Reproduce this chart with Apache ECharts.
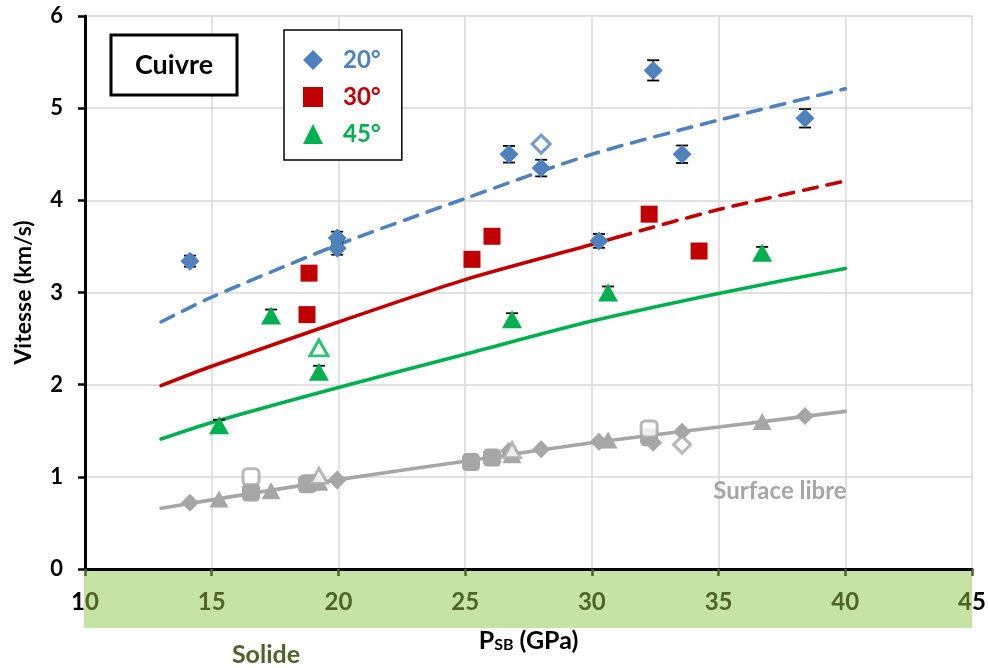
<!DOCTYPE html>
<html><head><meta charset="utf-8">
<script src="https://cdn.jsdelivr.net/npm/echarts@6/dist/echarts.min.js"></script>
<style>html,body{margin:0;padding:0;background:#fff}#c{width:989px;height:668px}</style>
</head><body><div id="c"></div>
<script>
// ---- fitted curves ----
const fitP      = [13, 15, 20, 25, 30, 35, 40];
const fit20     = [2.68, 2.95, 3.52, 4.02, 4.50, 4.87, 5.21];
const fit45     = [1.41, 1.59, 1.97, 2.33, 2.69, 2.99, 3.26];
const fitFree   = [0.66, 0.75, 0.97, 1.17, 1.37, 1.54, 1.71];
const fit30P    = [13, 15, 20, 25, 30, 31];
const fit30     = [1.99, 2.20, 2.68, 3.14, 3.52, 3.60];
const fit30dP   = [31, 35, 40];
const fit30d    = [3.60, 3.90, 4.21];

// ---- measurements ----
const p20    = [14.14, 19.95, 19.95, 26.73, 28.0, 30.28, 32.42, 33.56, 38.41];
const v20    = [3.34, 3.59, 3.48, 4.50, 4.35, 3.56, 5.41, 4.50, 4.89];
const e20    = [0.06, 0.07, 0.07, 0.09, 0.09, 0.075, 0.11, 0.095, 0.10];
const p20o   = [28.0];
const v20o   = [4.61];

const p30    = [18.84, 18.76, 25.27, 26.06, 32.26, 34.23];
const v30    = [3.21, 2.76, 3.36, 3.61, 3.85, 3.45];

const p45    = [15.29, 17.34, 19.23, 26.85, 30.64, 36.72];
const v45    = [1.56, 2.75, 2.14, 2.71, 3.00, 3.43];
const e45    = [0.06, 0.065, 0.065, 0.065, 0.065, 0.065];
const p45o   = [19.23];
const v45o   = [2.40];

// free surface velocities
const pFreeD  = [14.14, 19.95, 19.95, 26.73, 28.0, 30.28, 32.42, 33.56, 38.41];
const vFreeD  = [0.72, 0.97, 0.96, 1.28, 1.30, 1.38, 1.37, 1.49, 1.66];
const pFreeDo = [33.56];
const vFreeDo = [1.35];
const pFreeS  = [16.55, 18.76, 18.84, 25.23, 26.06, 32.26];
const vFreeS  = [0.83, 0.92, 0.93, 1.16, 1.21, 1.43];
const pFreeSo = [16.55, 32.26];
const vFreeSo = [1.00, 1.52];
const pFreeT  = [15.29, 17.34, 19.23, 26.85, 30.64, 36.72];
const vFreeT  = [0.76, 0.85, 0.94, 1.24, 1.40, 1.60];
const pFreeTo = [19.23, 26.85];
const vFreeTo = [1.01, 1.29];

const xTickLabels = ['10','15','20','25','30','35','40','45'];
const legendNames = ['20°', '30°', '45°'];

const BLUE = '#4f81bd', RED = '#c00000', GREEN = '#00b050', GRAY = '#a6a6a6', OLIVE = '#4f6228';
const F = 'Lato';

const zip = (xs, ys) => xs.map((x, i) => [x, ys[i]]);
const zip3 = (xs, ys, es) => xs.map((x, i) => [x, ys[i], es[i]]);

function errRender(params, api) {
  const x = api.value(0), y = api.value(1), e = api.value(2);
  const t = api.coord([x, y + e]), b = api.coord([x, y - e]);
  const w = 6, st = { stroke: '#000', lineWidth: 1.8 };
  return { type: 'group', children: [
    { type: 'line', shape: { x1: t[0], y1: t[1], x2: b[0], y2: b[1] }, style: st },
    { type: 'line', shape: { x1: t[0] - w, y1: t[1], x2: t[0] + w, y2: t[1] }, style: st },
    { type: 'line', shape: { x1: b[0] - w, y1: b[1], x2: b[0] + w, y2: b[1] }, style: st }
  ]};
}

function lineS(xs, ys, color, dashed, z) {
  return { type: 'line', data: zip(xs, ys), showSymbol: false, smooth: 0.25, silent: true, z: z || 2,
    lineStyle: { color, width: 3.6, type: dashed ? [14, 10] : 'solid', cap: 'round' } };
}

function scat(name, xs, ys, symbol, size, color, hollow, z) {
  return { type: 'scatter', name, data: zip(xs, ys), symbol, symbolSize: size, z: z || 4, silent: true,
    itemStyle: hollow ? { color: '#fff', borderColor: color, borderWidth: 3 } : { color, opacity: 1 } };
}

const chart = echarts.init(document.getElementById('c'));
const option = {
  animation: false,
  grid: { left: 85, right: 17, top: 16, bottom: 99 },
  xAxis: {
    type: 'value', min: 10, max: 45, interval: 5,
    axisLine: { lineStyle: { color: '#000', width: 3 } },
    axisTick: { show: true, length: 7, lineStyle: { color: OLIVE, width: 2.5 } },
    splitLine: { show: true, lineStyle: { color: '#d9d9d9', width: 1.5 } },
    axisLabel: {
      margin: 21,
      formatter: (v) => {
        const s = xTickLabels[Math.round((v - 10) / 5)];
        if (v === 10) return '{k|' + s[0] + '}{g|' + s[1] + '}';
        if (v === 45) return '{g|' + s[0] + '}{k|' + s[1] + '}';
        return '{g|' + s + '}';
      },
      rich: {
        g: { color: OLIVE, fontFamily: F, fontWeight: 'bold', fontSize: 24 },
        k: { color: '#000', fontFamily: F, fontWeight: 'bold', fontSize: 24 }
      }
    },
    name: '{p|P}{s|SB}{p| (GPa)}', nameLocation: 'middle', nameGap: 59,
    nameTextStyle: {
      rich: {
        p: { color: '#000', fontFamily: F, fontWeight: 'bold', fontSize: 25, lineHeight: 25, verticalAlign: 'top' },
        s: { color: '#000', fontFamily: F, fontWeight: 'bold', fontSize: 16, lineHeight: 16, verticalAlign: 'bottom', padding: [13, 0, 0, 0] }
      }
    }
  },
  yAxis: {
    type: 'value', min: 0, max: 6, interval: 1,
    axisLine: { show: true, lineStyle: { color: '#000', width: 3 } },
    axisTick: { show: true, length: 7, lineStyle: { color: '#000', width: 2.5 } },
    splitLine: { show: true, lineStyle: { color: '#d9d9d9', width: 1.5 } },
    axisLabel: { margin: 22, color: '#000', fontFamily: F, fontWeight: 'bold', fontSize: 22 },
    name: 'Vitesse (km/s)', nameLocation: 'middle', nameGap: 50,
    nameTextStyle: { color: '#000', fontFamily: F, fontWeight: 'bold', fontSize: 23 }
  },
  legend: {
    orient: 'vertical', left: 284, top: 30,
    itemWidth: 20, itemHeight: 20, itemGap: 13,
    padding: [18, 21, 14, 19],
    borderColor: '#000', borderWidth: 1.5, backgroundColor: '#fff',
    selectedMode: false,
    textStyle: { fontFamily: F, fontWeight: 'bold', fontSize: 24, lineHeight: 20, padding: [0, 0, 0, 15] },
    data: [
      { name: legendNames[0], textStyle: { color: BLUE } },
      { name: legendNames[1], textStyle: { color: RED } },
      { name: legendNames[2], textStyle: { color: GREEN } }
    ]
  },
  graphic: { elements: [
    { type: 'rect', z: -1, shape: { x: 84, y: 570, width: 888, height: 58 }, style: { fill: '#c6e3a6' } },
    { type: 'rect', z: 10, shape: { x: 111, y: 35, width: 126, height: 60 }, style: { fill: '#fff', stroke: '#000', lineWidth: 3 } },
    { type: 'text', z: 11, x: 174, y: 65, style: { text: 'Cuivre', fill: '#000', fontFamily: F, fontWeight: 'bold', fontSize: 27, textAlign: 'center', textVerticalAlign: 'middle' } },
    { type: 'text', z: 11, x: 780, y: 491, style: { text: 'Surface libre', fill: GRAY, fontFamily: F, fontWeight: 'bold', fontSize: 24, textAlign: 'center', textVerticalAlign: 'middle' } },
    { type: 'text', z: 11, x: 266, y: 655, style: { text: 'Solide', fill: OLIVE, fontFamily: F, fontWeight: 'bold', fontSize: 25, textAlign: 'center', textVerticalAlign: 'middle' } }
  ]},
  series: [
    lineS(fitP, fitFree, GRAY, false, 2),
    lineS(fitP, fit45, GREEN, false, 2),
    lineS(fit30P, fit30, RED, false, 2),
    lineS(fit30dP, fit30d, RED, true, 2),
    lineS(fitP, fit20, BLUE, true, 2),

    scat('gD', pFreeD, vFreeD, 'diamond', 18, GRAY, false, 3),
    scat('gDo', pFreeDo, vFreeDo, 'diamond', 17, GRAY, true, 3),
    scat('gS', pFreeS, vFreeS, 'roundRect', 18, GRAY, false, 3),
    scat('gSo', pFreeSo, vFreeSo, 'roundRect', 16, GRAY, true, 3),
    scat('gT', pFreeT, vFreeT, 'triangle', [19, 17], GRAY, false, 3),
    scat('gTo', pFreeTo, vFreeTo, 'triangle', [17, 15], GRAY, true, 3),

    { type: 'custom', data: zip3(p20, v20, e20), renderItem: errRender, silent: true, z: 3, encode: { x: 0, y: 1 } },
    { type: 'custom', data: zip3(p45, v45, e45), renderItem: errRender, silent: true, z: 3, encode: { x: 0, y: 1 } },

    scat(legendNames[0], p20, v20, 'diamond', 19, BLUE, false, 4),
    scat('20o', p20o, v20o, 'diamond', 18, BLUE, true, 4),
    scat(legendNames[1], p30, v30, 'rect', 17, RED, false, 4),
    scat(legendNames[2], p45, v45, 'triangle', [20, 18], GREEN, false, 4),
    scat('45o', p45o, v45o, 'triangle', [18, 16], GREEN, true, 4)
  ]
};
chart.setOption(option);
</script>
</body></html>
